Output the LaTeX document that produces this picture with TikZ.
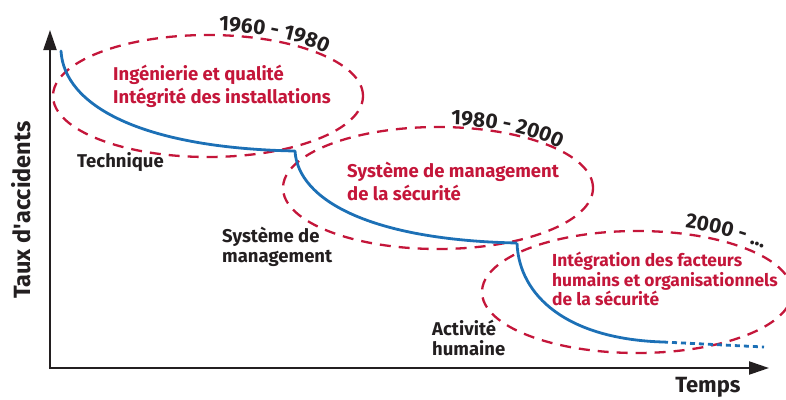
\documentclass[tikz,border=0pt]{standalone}
\usepackage{fontspec}
\setmainfont{Fira Sans}
\usetikzlibrary{shapes.geometric,arrows.meta,decorations.text}
\definecolor{crim}{RGB}{196,22,58}
\definecolor{curveblue}{RGB}{28,112,182}
\definecolor{ink}{RGB}{35,31,32}
\tikzset{
  axisline/.style={ink,line width=2.2pt,-{Triangle[length=20pt,width=13pt]}},
  era/.style={draw=crim,line width=2.3pt,dash pattern=on 11pt off 8pt,ellipse,minimum width=310pt,minimum height=122pt,inner sep=0pt},
  stage/.style={curveblue,line width=2.8pt},
  redlbl/.style={crim,font=\bfseries\fontsize{18.5}{23}\selectfont,align=left,anchor=west,inner sep=0pt},
  blklbl/.style={ink,font=\bfseries\fontsize{18.5}{19.5}\selectfont,align=left,anchor=west,inner sep=0pt},
  yearlbl/.style={decorate,decoration={text along path,text align=left,text color=ink,
     text={|\bfseries\fontsize{21}{21}\selectfont|#1}}},
  axlbl/.style={ink,font=\bfseries\fontsize{22}{24}\selectfont,inner sep=0pt}
}
\begin{document}
\begin{tikzpicture}[x=1pt,y=-1pt]
\useasboundingbox (0,0) rectangle (786,399);
% axes
\coordinate (o) at (50,368);
\coordinate (ytip) at (50,30);
\coordinate (xtip) at (769,368);
\draw[axisline] (50,369.1) -- (ytip);
\draw[axisline] (48.9,368) -- (xtip);
\node[axlbl,rotate=90,font=\bfseries\fontsize{23.5}{24}\selectfont] (ylab) at (21,210) {Taux d\textquotesingle accidents};
\node[axlbl] (xlab) at (708,387) {Temps};
% ellipses
\node[era] (e1) at (208,96) {};
\node[era] (e2) at (438,188) {};
\node[era] (e3) at (637,292) {};
% curve points
\coordinate (p0) at (61,51);
\coordinate (p1) at (295,151);
\coordinate (p2) at (517,243);
\coordinate (p3) at (663,342);
\coordinate (p4) at (764,347);
\draw[stage,line cap=round] (p0) .. controls (64,105) and (140,148) .. (p1);
\draw[stage] (p1) .. controls (298,200) and (370,240) .. (p2);
\draw[stage] (p2) .. controls (519,296) and (567,339) .. (p3);
\draw[stage,dash pattern=on 5pt off 4pt] (p3) -- (p4);
% labels
\node[redlbl] (t1) at (113,86) {Ingénierie et qualité\\Intégrité des installations};
\node[redlbl] (t2) at (347,181) {Système de management\\de la sécurité};
\node[redlbl,font=\bfseries\fontsize{17.4}{19.5}\selectfont] (t3) at (552,279) {Intégration des facteurs\\humains et organisationnels\\de la sécurité};
\node[blklbl] (b1) at (77,162) {Technique};
\node[blklbl] (b2) at (222,247) {Système de\\management};
\node[blklbl] (b3) at (432,338) {Activité\\humaine};
% year labels
\coordinate (y1a) at (219,31);
\coordinate (y1b) at (345,63);
\coordinate (y2a) at (451,125);
\coordinate (y2b) at (577,157);
\coordinate (y3a) at (685,228);
\coordinate (y3b) at (790,263);
\path[yearlbl={1960 - 1980}] (y1a) .. controls (270,32) and (310,43) .. (y1b);
\path[yearlbl={1980 - 2000}] (y2a) .. controls (502,126) and (542,137) .. (y2b);
\path[yearlbl={2000 - ...}] (y3a) .. controls (720,233) and (755,241) .. (y3b);
\end{tikzpicture}
\end{document}
